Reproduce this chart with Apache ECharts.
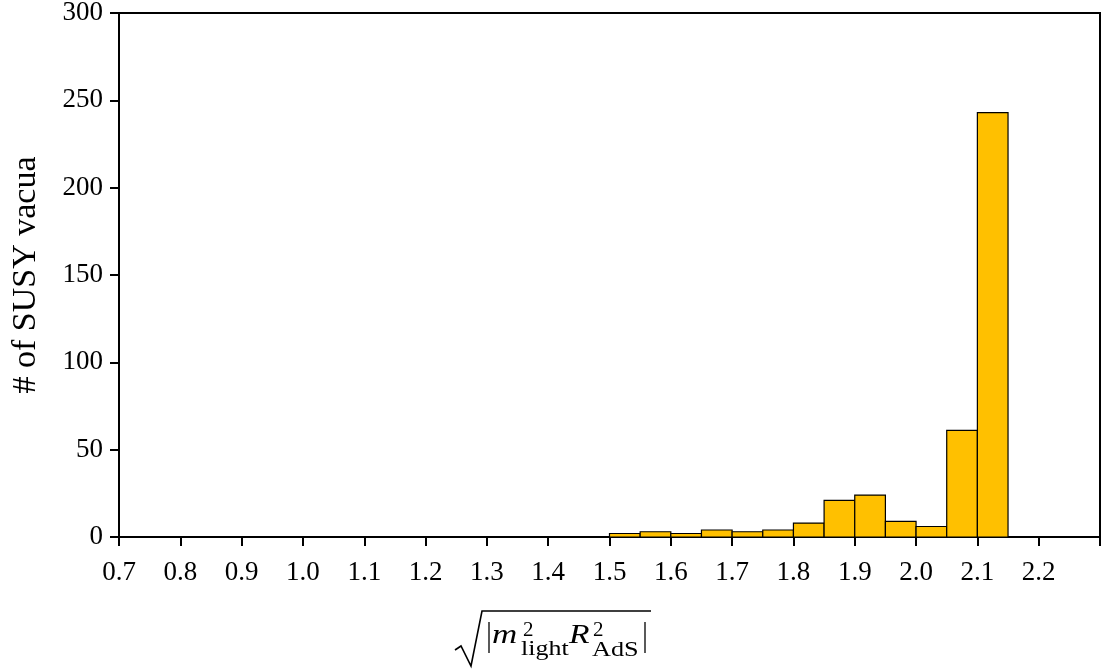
<!DOCTYPE html>
<html>
<head>
<meta charset="utf-8">
<script src="https://cdn.jsdelivr.net/npm/echarts@6/dist/echarts.min.js"></script>
<style>html,body{margin:0;padding:0;background:#fff;}#c{width:1103px;height:670px;}</style>
</head>
<body>
<div id="c"></div>
<script>
// Data
const binStarts = [1.50, 1.55, 1.60, 1.65, 1.70, 1.75, 1.80, 1.85, 1.90, 1.95, 2.00, 2.05, 2.10];
const binWidth = 0.05;
const counts = [2, 3, 2, 4, 3, 4, 8, 21, 24, 9, 6, 61, 243];
const xTickMin = 0.7, xTickMax = 2.3, xTickStep = 0.1;
const yTickMin = 0, yTickMax = 300, yTickStep = 50;
const yAxisTitle = '# of SUSY vacua';

const FONT = '"Liberation Serif", "DejaVu Serif", serif';
const chart = echarts.init(document.getElementById('c'), null, {renderer: 'canvas'});

const data = binStarts.map((s, i) => [s, s + binWidth, counts[i]]);

const txt = (text, x, y, size, italic, sx) => ({
  type: 'text', x: x, y: y, scaleX: sx || 1, silent: true,
  style: {text: text, fill: '#000', textVerticalAlign: 'middle', textAlign: 'left',
          font: (italic ? 'italic ' : '') + size + 'px ' + FONT}
});

chart.setOption({
  animation: false,
  backgroundColor: '#fff',
  grid: {left: 119, right: 3, top: 13, bottom: 133, containLabel: false, outerBoundsMode: 'none',
         show: true, borderColor: '#000', borderWidth: 2, backgroundColor: 'transparent'},
  xAxis: {
    type: 'value', min: xTickMin, max: xTickMax, interval: xTickStep,
    axisLine: {show: true, onZero: false, lineStyle: {color: '#000', width: 2}},
    axisTick: {show: true, inside: false, length: 9, lineStyle: {color: '#000', width: 2}},
    splitLine: {show: false},
    axisLabel: {
      margin: 22, color: '#000', fontFamily: FONT, fontSize: 27,
      formatter: v => (v > 2.25 ? '' : v.toFixed(1))
    }
  },
  yAxis: {
    type: 'value', min: yTickMin, max: yTickMax, interval: yTickStep,
    name: yAxisTitle, nameLocation: 'middle', nameGap: 76,
    nameTextStyle: {color: '#000', fontFamily: FONT, fontSize: 34},
    axisLine: {show: true, lineStyle: {color: '#000', width: 2}},
    axisTick: {show: true, inside: false, length: 9, lineStyle: {color: '#000', width: 2}},
    splitLine: {show: false},
    axisLabel: {margin: 16, color: '#000', fontFamily: FONT, fontSize: 27}
  },
  series: [{
    type: 'custom',
    data: data,
    encode: {x: [0, 1], y: 2},
    renderItem: function (params, api) {
      const p0 = api.coord([api.value(0), api.value(2)]);
      const p1 = api.coord([api.value(1), 0]);
      return {
        type: 'rect',
        shape: {x: p0[0], y: p0[1], width: p1[0] - p0[0], height: p1[1] - p0[1]},
        style: {fill: '#FFC000', stroke: '#000', lineWidth: 1.2}
      };
    }
  }],
  graphic: [
    {type: 'polyline', silent: true,
     shape: {points: [[455, 650], [461, 646], [471, 666], [482, 611], [651, 611]]},
     style: {stroke: '#000', lineWidth: 1.6, fill: null, lineJoin: 'miter'}},
    {type: 'line', silent: true, shape: {x1: 489, y1: 622, x2: 489, y2: 653}, style: {stroke: '#000', lineWidth: 1.3}},
    txt('m', 492, 635.5, 28, true, 1.25),
    txt('2', 523, 631, 20, false, 1.05),
    txt('light', 521, 649.6, 22, false, 1.18),
    txt('R', 569, 635.5, 28, true, 1.2),
    txt('2', 593, 631, 20, false, 1.05),
    txt('AdS', 592, 650, 21, false, 1.25),
    {type: 'line', silent: true, shape: {x1: 645, y1: 622, x2: 645, y2: 653}, style: {stroke: '#000', lineWidth: 1.3}}
  ]
});
</script>
</body>
</html>
